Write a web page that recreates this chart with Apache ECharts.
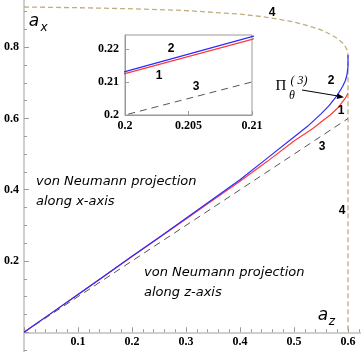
<!DOCTYPE html>
<html><head><meta charset="utf-8">
<script src="https://cdn.jsdelivr.net/npm/echarts@6/dist/echarts.min.js"></script>
<style>html,body{margin:0;padding:0;background:#fff}#c{width:361px;height:352px}</style>
</head><body><div id="c"></div>
<script>
// Curve 2 (blue)
const blueX = [0,0.05,0.1,0.15,0.2,0.21,0.25,0.3,0.35,0.4,0.45,0.5,0.525,0.55,0.565,0.58,0.59,0.595,0.598,0.6,0.6];
const blueY = [0,0.053,0.106,0.159,0.2131,0.2237,0.266,0.32,0.374,0.428,0.488,0.548,0.578,0.613,0.636,0.665,0.69,0.706,0.722,0.745,0.778];
// Curve 1 (red)
const redX = [0,0.05,0.1,0.15,0.2,0.21,0.25,0.3,0.35,0.4,0.45,0.5,0.535,0.55,0.567,0.58,0.588,0.595,0.6];
const redY = [0,0.053,0.106,0.159,0.2125,0.2229,0.265,0.318,0.371,0.424,0.479,0.537,0.572,0.59,0.61,0.628,0.643,0.657,0.671];
// Curve 3 (dashed, a_x = a_z)
const diagX = [0,0.6];
const diagY = [0,0.6];
// Curve 4 (boundary)
const bndX = [0,0.1,0.2,0.3,0.35,0.4,0.44,0.47,0.5,0.52,0.55,0.565,0.58,0.59,0.595,0.599,0.6,0.6];
const bndY = [0.913,0.911,0.908,0.903,0.898,0.893,0.886,0.879,0.871,0.863,0.849,0.838,0.825,0.812,0.802,0.79,0.78,0];

const zip = (a,b) => a.map((v,i)=>[v,b[i]]);
const blue = zip(blueX,blueY), red = zip(redX,redY), diag = zip(diagX,diagY), bnd = zip(bndX,bndY);

const tickFont = {fontFamily:'Liberation Serif', fontWeight:'bold', fontSize:12, color:'#000'};
const BLUE='#2b2bff', RED='#ff3a3a';
const Y_MIN = -0.2, Y_MAX = 1.0, GRID_H = 427.5;

const chart = echarts.init(document.getElementById('c'), null, {renderer:'canvas'});
function lbl(text,x,y,font,extra){return Object.assign({type:'text',x:x,y:y,z:100,style:{text:text,font:font,fill:'#000',align:'center',verticalAlign:'middle'}},extra||{});}
const numFont = 'bold 12px "Liberation Sans"';
chart.setOption({
  animation:false,
  grid:[
    {left:24,top:-24,width:378,height:GRID_H,outerBoundsMode:'none',containLabel:false},
    {left:125,top:35,width:127,height:80,outerBoundsMode:'none',containLabel:false,show:true,borderColor:'#999',borderWidth:1,backgroundColor:'#fff',z:5}
  ],
  xAxis:[
    {type:'value',gridIndex:0,min:0,max:0.7,interval:0.1,position:'bottom',
     offset:-(0 - Y_MIN)/(Y_MAX - Y_MIN)*GRID_H,
     axisLine:{onZero:false,lineStyle:{color:'#cfcfcf',width:2}},
     axisTick:{inside:true,length:5,lineStyle:{color:'#999'}},
     minorTick:{show:true,splitNumber:5,length:3,lineStyle:{color:'#999'}},
     splitLine:{show:false},
     axisLabel:Object.assign({margin:4,formatter:v=>(v<=0||v>0.65)?'':String(+v.toFixed(2))},tickFont)},
    {type:'value',gridIndex:1,min:0.2,max:0.21,interval:0.005,z:6,
     axisLine:{lineStyle:{color:'#999',width:1}},
     axisTick:{inside:true,length:4,lineStyle:{color:'#999'}},
     splitLine:{show:false},
     axisLabel:Object.assign({margin:5,formatter:v=>String(+v.toFixed(3))},tickFont)}
  ],
  yAxis:[
    {type:'value',gridIndex:0,min:Y_MIN,max:Y_MAX,interval:0.2,
     axisLine:{onZero:false,lineStyle:{color:'#cfcfcf',width:2}},
     axisTick:{inside:true,length:5,lineStyle:{color:'#999'}},
     minorTick:{show:true,splitNumber:4,length:3,lineStyle:{color:'#999'}},
     splitLine:{show:false},
     axisLabel:Object.assign({margin:5,formatter:v=>(v<=0||v>0.9)?'':String(+v.toFixed(2))},tickFont)},
    {type:'value',gridIndex:1,min:0.2,max:0.2242,interval:0.01,z:6,
     axisLine:{lineStyle:{color:'#999',width:1}},
     axisTick:{inside:true,length:4,lineStyle:{color:'#999'}},
     splitLine:{show:false},
     axisLabel:Object.assign({margin:6,showMaxLabel:false,formatter:v=>String(+v.toFixed(3))},tickFont)}
  ],
  series:[
    {type:'line',xAxisIndex:0,yAxisIndex:0,data:bnd,symbol:'none',lineStyle:{color:'#bfae7f',width:1.3,type:[5,3]}},
    {type:'line',xAxisIndex:0,yAxisIndex:0,data:diag,symbol:'none',lineStyle:{color:'#555',width:1,type:[7,5]}},
    {type:'line',xAxisIndex:0,yAxisIndex:0,data:red,symbol:'none',lineStyle:{color:RED,width:1.2}},
    {type:'line',xAxisIndex:0,yAxisIndex:0,data:blue,symbol:'none',lineStyle:{color:BLUE,width:1.2}},
    {type:'line',xAxisIndex:1,yAxisIndex:1,data:diag,symbol:'none',z:7,lineStyle:{color:'#555',width:1,type:[7,5]}},
    {type:'line',xAxisIndex:1,yAxisIndex:1,data:red,symbol:'none',z:7,lineStyle:{color:RED,width:1.2}},
    {type:'line',xAxisIndex:1,yAxisIndex:1,data:blue,symbol:'none',z:7,lineStyle:{color:BLUE,width:1.2}}
  ],
  graphic:[
    lbl('a',34,22,'italic 17px "DejaVu Sans"'),
    lbl('x',44,28,'italic 12px "DejaVu Sans"'),
    lbl('a',323,316,'italic 17px "DejaVu Sans"'),
    lbl('z',332,322,'italic 12px "DejaVu Sans"'),
    {type:'text',x:36,y:182,z:100,style:{text:'von Neumann projection',font:'italic 13px "DejaVu Sans"',fill:'#000',align:'left',verticalAlign:'middle'}},
    {type:'text',x:36,y:202,z:100,style:{text:'along x-axis',font:'italic 13px "DejaVu Sans"',fill:'#000',align:'left',verticalAlign:'middle'}},
    {type:'text',x:144,y:273,z:100,style:{text:'von Neumann projection',font:'italic 13px "DejaVu Sans"',fill:'#000',align:'left',verticalAlign:'middle'}},
    {type:'text',x:144,y:293,z:100,style:{text:'along z-axis',font:'italic 13px "DejaVu Sans"',fill:'#000',align:'left',verticalAlign:'middle'}},
    lbl('4',272,13,numFont),
    lbl('4',342,211,numFont),
    lbl('2',331,81,numFont),
    lbl('1',341,111,numFont),
    lbl('3',322,147,numFont),
    lbl('2',171,49,numFont),
    lbl('1',159,76,numFont),
    lbl('3',196,87,numFont),
    lbl('\u03A0',281,86,'15px "Liberation Serif"'),
    lbl('\u03B8',292,96,'italic 12px "Liberation Serif"'),
    lbl('( 3)',299,81,'italic 12px "Liberation Serif"'),
    {type:'line',z:100,shape:{x1:302,y1:90,x2:338,y2:96},style:{stroke:'#000',lineWidth:1}},
    {type:'polygon',z:100,shape:{points:[[344,97.2],[336.7,99],[337.6,93.4]]},style:{fill:'#000'}}
  ]
});
</script></body></html>
